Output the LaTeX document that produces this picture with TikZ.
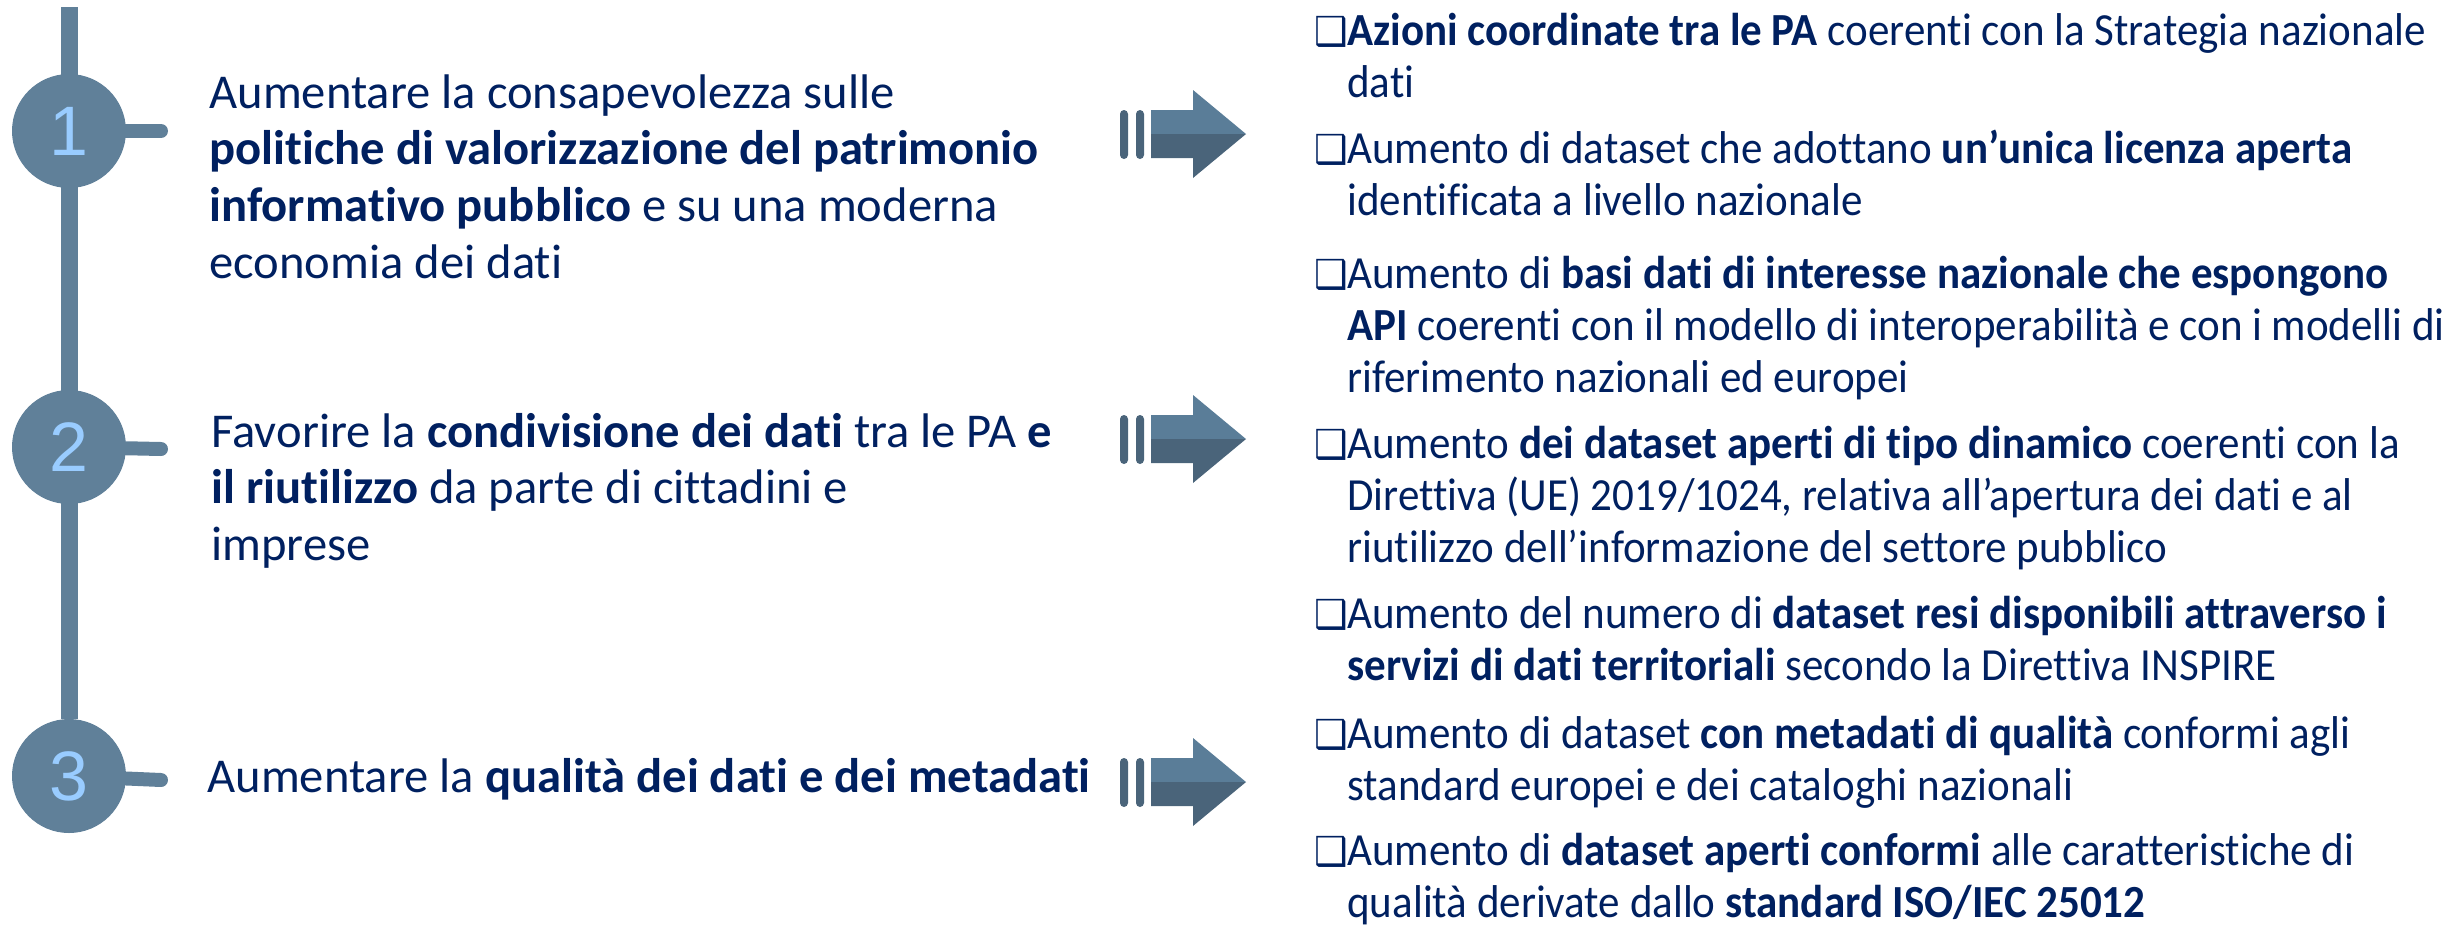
\documentclass[tikz,border=0pt]{standalone}
\usepackage{graphicx}
\usepackage{fontspec}
\setmainfont{Carlito}[Ligatures=NoCommon]
\newfontfamily\numfont{Liberation Sans}
\newfontfamily\boxfont{DejaVu Sans}
\usetikzlibrary{backgrounds}

\definecolor{navy}{HTML}{002060}
\definecolor{stepblue}{HTML}{608099}
\definecolor{numblue}{HTML}{99CCFF}
\definecolor{arrowlight}{HTML}{5A7D98}
\definecolor{arrowdark}{HTML}{4A647A}

\newcommand{\goaltext}[1]{\parbox[t]{500pt}{\raggedright\fontsize{24.3}{28.4}\selectfont #1}}
\newcommand{\resulttext}[1]{\scalebox{0.935}[1]{\parbox[t]{600pt}{\raggedright\fontsize{23}{26}\selectfont
  \leavevmode\llap{\makebox[17.5pt][l]{\boxfont\fontsize{20}{20}\selectfont ❑}}#1}}}

\begin{document}
\begin{tikzpicture}[x=0.5pt, y=-0.5pt,
  stepdot/.style={circle, fill=stepblue, minimum size=57pt, inner sep=0pt,
    text=numblue, font=\numfont\fontsize{35}{35}\selectfont},
  spine/.style={stepblue, line width=8.5pt},
  tick/.style={stepblue, line width=7pt, line cap=round},
  goal/.style={anchor=base west, inner sep=0pt, text=navy},
  result/.style={anchor=base west, inner sep=0pt, text=navy},
  bigarrow/.pic={
    \fill[arrowdark, rounded corners=2pt] (0,-24) rectangle (8,25);
    \fill[arrowdark, rounded corners=2pt] (16,-24) rectangle (24,25);
    \fill[arrowlight] (31,-24) -- (73,-24) -- (73,-44) -- (126,0) -- (31,0) -- cycle;
    \fill[arrowdark] (31,0) -- (126,0) -- (73,44) -- (73,24) -- (31,24) -- cycle;
  }]
\useasboundingbox (0,0) rectangle (2448,927);

\node[stepdot] (c1) at (69,131) {1};
\node[stepdot] (c2) at (69,447) {2};
\node[stepdot] (c3) at (69,776) {3};

\coordinate (top) at (69,7);
\begin{scope}[on background layer]
\draw[spine] (top) -- (c3);
\end{scope}

\coordinate (t1) at (161,131);
\coordinate (t2) at (161,449);
\coordinate (t3) at (161,780);
\draw[tick] (c1) -- (t1);
\draw[tick] (c2) -- (t2);
\draw[tick] (c3) -- (t3);

\node[goal] (g1) at (209,108) {\goaltext{Aumentare la consapevolezza sulle\\
  \textbf{politiche di valorizzazione del patrimonio}\\
  \textbf{informativo pubblico} e su una moderna\\
  economia dei dati}};
\node[goal] (g2) at (211,447) {\goaltext{Favorire la \textbf{condivisione dei dati} tra le PA \textbf{e}\\
  \textbf{il riutilizzo} da parte di cittadini e\\
  imprese}};
\node[goal] (g3) at (207,792) {\goaltext{Aumentare la \textbf{qualità dei dati e dei metadati}}};

\pic (a1) at (1120,134) {bigarrow};
\pic (a2) at (1120,439) {bigarrow};
\pic (a3) at (1120,782) {bigarrow};

\node[result] (r1) at (1347,45) {\resulttext{\textbf{Azioni coordinate tra le PA} coerenti con la Strategia nazionale\\
  dati}};
\node[result] (r2) at (1347,163) {\resulttext{Aumento di dataset che adottano \textbf{un’unica licenza aperta}\\
  identificata a livello nazionale}};
\node[result] (r3) at (1347,288) {\resulttext{Aumento di \textbf{basi dati di interesse nazionale che espongono}\\
  \textbf{API} coerenti con il modello di interoperabilità e con i modelli di\\
  riferimento nazionali ed europei}};
\node[result] (r4) at (1347,458) {\resulttext{Aumento \textbf{dei dataset aperti di tipo dinamico} coerenti con la\\
  Direttiva (UE) 2019/1024, relativa all’apertura dei dati e al\\
  riutilizzo dell’informazione del settore pubblico}};
\node[result] (r5) at (1347,628) {\resulttext{Aumento del numero di \textbf{dataset resi disponibili attraverso i}\\
  \textbf{servizi di dati territoriali} secondo la Direttiva INSPIRE}};
\node[result] (r6) at (1347,748) {\resulttext{Aumento di dataset \textbf{con metadati di qualità} conformi agli\\
  standard europei e dei cataloghi nazionali}};
\node[result] (r7) at (1347,865) {\resulttext{Aumento di \textbf{dataset aperti conformi} alle caratteristiche di\\
  qualità derivate dallo \textbf{standard ISO/IEC 25012}}};
\end{tikzpicture}
\end{document}
